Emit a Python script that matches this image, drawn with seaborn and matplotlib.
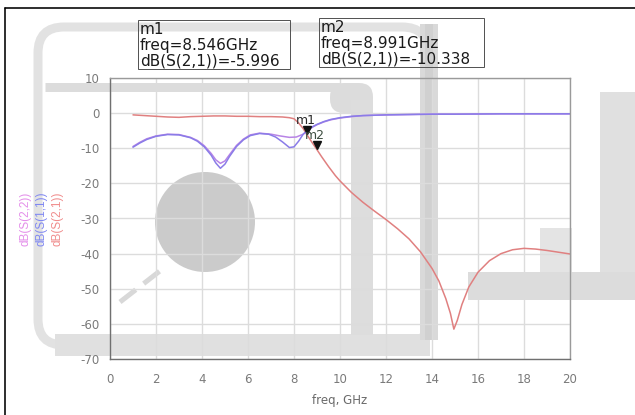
import numpy as np
import pandas as pd
import matplotlib
matplotlib.use("Agg")
import matplotlib.pyplot as plt
from matplotlib.patches import Circle, Rectangle, FancyBboxPatch
from matplotlib.ticker import MultipleLocator
import seaborn as sns

# ---- traces (freq in GHz, magnitude in dB) ----
s21_freq = [1.0, 1.5, 2.0, 2.5, 3.0, 3.5, 4.0, 4.5, 5.0, 5.5, 6.0, 6.5, 7.0, 7.5, 7.8,
            8.0, 8.2, 8.4, 8.546, 8.8, 8.991, 9.2, 9.5, 9.8, 10.0, 10.5, 11.0, 11.5, 12.0,
            12.5, 13.0, 13.5, 14.0, 14.3, 14.6, 14.8, 14.95, 15.1, 15.3, 15.6, 16.0, 16.5,
            17.0, 17.5, 18.0, 18.5, 19.0, 19.5, 20.0]
s21_db = [-0.5, -0.7, -0.9, -1.1, -1.2, -1.0, -0.9, -0.8, -0.8, -0.9, -0.9, -1.0, -1.0, -1.1, -1.3,
          -1.6, -2.8, -4.4, -5.996, -8.5, -10.338, -12.4, -15.2, -17.8, -19.3, -22.6, -25.4, -27.9, -30.3,
          -32.9, -35.8, -39.5, -44.2, -47.8, -52.8, -57.0, -61.5, -59.0, -54.5, -49.5, -45.3, -42.0,
          -40.0, -38.9, -38.5, -38.7, -39.1, -39.6, -40.1]

s11_freq = [1.0, 1.3, 1.6, 2.0, 2.5, 3.0, 3.5, 3.8, 4.1, 4.4, 4.6, 4.8, 5.0, 5.2, 5.5, 5.8,
            6.1, 6.5, 6.9, 7.2, 7.5, 7.8, 8.0, 8.2, 8.4, 8.6, 8.8, 9.0, 9.3, 9.6, 10.0, 10.5,
            11.0, 12.0, 13.0, 14.0, 15.0, 16.0, 17.0, 18.0, 19.0, 20.0]
s11_db = [-9.7, -8.5, -7.5, -6.6, -6.1, -6.2, -7.0, -8.0, -9.6, -12.0, -14.2, -15.7, -14.5, -12.3, -9.5, -7.6,
          -6.4, -5.8, -6.0, -6.8, -8.2, -9.8, -9.6, -8.0, -6.0, -4.8, -3.9, -3.2, -2.4, -1.8, -1.3, -0.9,
          -0.7, -0.5, -0.4, -0.3, -0.3, -0.25, -0.2, -0.2, -0.2, -0.2]

s22_freq = [1.0, 1.3, 1.6, 2.0, 2.5, 3.0, 3.5, 3.8, 4.1, 4.4, 4.6, 4.8, 5.0, 5.2, 5.5, 5.8,
            6.1, 6.5, 7.0, 7.4, 7.8, 8.1, 8.4, 8.6, 8.8, 9.0, 9.3, 9.6, 10.0, 10.5,
            11.0, 12.0, 13.0, 14.0, 15.0, 16.0, 17.0, 18.0, 19.0, 20.0]
s22_db = [-9.5, -8.3, -7.3, -6.5, -6.0, -6.1, -6.9, -7.8, -9.3, -11.5, -13.3, -14.3, -13.6, -11.8, -9.2, -7.4,
          -6.2, -5.7, -6.0, -6.5, -6.9, -6.8, -6.0, -5.0, -4.0, -3.3, -2.5, -1.9, -1.4, -1.0,
          -0.7, -0.5, -0.4, -0.3, -0.3, -0.25, -0.2, -0.2, -0.2, -0.2]

trace_names = ["dB(S(2,2))", "dB(S(1,1))", "dB(S(2,1))"]
trace_colors = {"dB(S(2,2))": "#b884e6", "dB(S(1,1))": "#8a7ce8", "dB(S(2,1))": "#e08080"}
label_colors = {"dB(S(2,2))": "#e48fea", "dB(S(1,1))": "#8088f2", "dB(S(2,1))": "#f08c8c"}

markers = [("m1", 8.546, -5.996), ("m2", 8.991, -10.338)]

x_ticks = list(range(0, 21, 2))
y_ticks = list(range(-70, 11, 10))

frames = []
for name, fr, db in [("dB(S(2,1))", s21_freq, s21_db),
                     ("dB(S(2,2))", s22_freq, s22_db),
                     ("dB(S(1,1))", s11_freq, s11_db)]:
    frames.append(pd.DataFrame({"freq": fr, "dB": db, "trace": name}))
df = pd.concat(frames, ignore_index=True)

sns.set_theme(style="white")
plt.rcParams["font.family"] = ["DejaVu Sans"]
plt.rcParams["axes.unicode_minus"] = False

W, H = 635, 415
fig = plt.figure(figsize=(W / 100, H / 100), dpi=100)
fig.patch.set_facecolor("white")

# ---- background layer in pixel coordinates ----
bg = fig.add_axes([0, 0, 1, 1], zorder=0)
bg.set_xlim(0, W)
bg.set_ylim(H, 0)
bg.axis("off")

px = 0.72  # points per pixel at 100 dpi
bg.add_patch(FancyBboxPatch((38, 27), 390, 318, boxstyle="round,pad=0,rounding_size=26",
                            fill=False, edgecolor="#e2e2e2", lw=9 * px, zorder=1))
bg.add_patch(Rectangle((55, 334), 375, 22, color="#e0e0e0", lw=0, zorder=1))
bg.add_patch(Rectangle((420, 24), 18, 316, color="#d9d9d9", lw=0, zorder=1))
bg.add_patch(Rectangle((425, 24), 8, 316, color="#d0d0d0", lw=0, zorder=1))
bg.plot([45, 340], [87.5, 87.5], color="#dcdcdc", lw=9 * px, solid_capstyle="butt", zorder=1)
bg.add_patch(FancyBboxPatch((330, 83), 43, 30, boxstyle="round,pad=0,rounding_size=14",
                            color="#dcdcdc", lw=0, zorder=1))
bg.add_patch(Rectangle((351, 100), 22, 235, color="#dddddd", lw=0, zorder=1))
bg.add_patch(Circle((205, 222), 50, color="#cbcbcb", lw=0, zorder=1))
bg.add_patch(Rectangle((600, 92), 35, 208, color="#e0e0e0", lw=0, zorder=1))
bg.add_patch(Rectangle((468, 272), 167, 28, color="#dcdcdc", lw=0, zorder=1))
bg.add_patch(Rectangle((540, 228), 32, 44, color="#e4e4e4", lw=0, zorder=1))
bg.plot([120, 165], [302, 267], color="#d8d8d8", lw=5 * px, ls=(0, (4, 2)), zorder=1)

# page frame
bg.plot([5, 5], [8, H], color="black", lw=1.6 * px, zorder=3)
bg.plot([5, W], [8, 8], color="black", lw=1.6 * px, zorder=3)

# ---- plot axes ----
ax = fig.add_axes([110 / W, 1 - 359 / H, 460 / W, 281 / H], zorder=1)
ax.patch.set_alpha(0)

sns.lineplot(data=df, x="freq", y="dB", hue="trace", palette=trace_colors,
             hue_order=["dB(S(2,1))", "dB(S(2,2))", "dB(S(1,1))"], estimator=None,
             sort=False, lw=1.1, legend=False, ax=ax)

ax.set_xlim(0, 20)
ax.set_ylim(-70, 10)
ax.set_xticks(x_ticks)
ax.set_yticks(y_ticks)
ax.xaxis.set_minor_locator(MultipleLocator(1))
ax.yaxis.set_minor_locator(MultipleLocator(5))
ax.grid(True, which="major", color="#dcdcdc", lw=1.0)
ax.set_axisbelow(True)
ax.tick_params(which="major", direction="out", length=6, width=0.9, color="#777777",
               labelsize=8.5, labelcolor="#7a7a7a")
ax.tick_params(axis="x", which="major", pad=4)
ax.tick_params(axis="y", which="major", pad=1.5)
ax.tick_params(which="minor", direction="out", length=3, width=0.8, color="#777777")
for side in ("left", "bottom"):
    ax.spines[side].set_color("#707070")
    ax.spines[side].set_linewidth(1.0)
for side in ("top", "right"):
    ax.spines[side].set_color("#9a9a9a")
    ax.spines[side].set_linewidth(1.0)
ax.set_xlabel("freq, GHz", fontsize=8.5, color="#6a6a6a", labelpad=6)
ax.set_ylabel("")

# marker triangles and labels
ax.plot([m[1] for m in markers], [m[2] for m in markers], ls="none", marker="v",
        ms=6, color="#111111", zorder=5,
        transform=ax.transData + matplotlib.transforms.ScaledTranslation(0, 4 / 100, fig.dpi_scale_trans))
for (name, f, v), col, (dx, dy) in zip(markers, ["#2a2a2a", "#3d4d40"], [(-1, 14), (-2, 14)]):
    ax.annotate(name, (f, v), xytext=(dx * px, dy * px), textcoords="offset points",
                ha="center", va="center", fontsize=9, color=col, zorder=6)

# marker readout boxes
boxes = [((138, 20), 152, 49, markers[0], "dB(S(2,1))=-5.996"),
         ((319, 18), 165, 49, markers[1], "dB(S(2,1))=-10.338")]
for (bx, by), bw, bh, (name, f, v), readout in boxes:
    bg.add_patch(Rectangle((bx, by), bw, bh, fill=False, edgecolor="#555555", lw=1.0 * px, zorder=3))
    lines = [name, f"freq={f:.3f}GHz", readout]
    for i, t in enumerate(lines):
        bg.text(bx + 2, by + 10 + i * 15.5, t, fontsize=11, color="#1a1a1a",
                va="center", ha="left", zorder=4)

# rotated trace names on the left
for name, xpix in zip(trace_names, (25, 42, 58)):
    bg.text(xpix, 219, name, rotation=90, fontsize=8.5, color=label_colors[name],
            family=["Liberation Sans", "DejaVu Sans"], ha="center", va="center", zorder=4)

fig.savefig("out.png", dpi=100, facecolor="white")
